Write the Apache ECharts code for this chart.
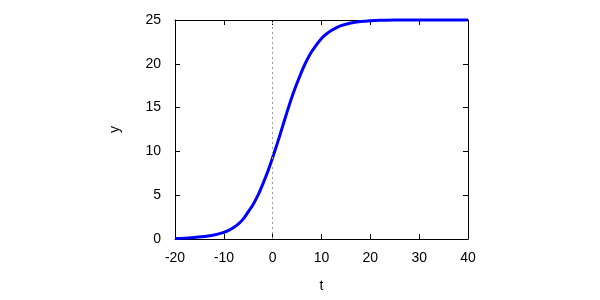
<!DOCTYPE html>
<html><head><meta charset="utf-8">
<script src="https://cdn.jsdelivr.net/npm/echarts@6/dist/echarts.min.js"></script>
<style>html,body{margin:0;padding:0;background:#fff}#c{width:600px;height:300px}</style>
</head><body><div id="c"></div>
<script>
const tValues = [-20,-18,-16,-14,-12,-10,-9,-8,-7,-6,-5,-4,-3,-2,-1,0,1,2,3,4,5,6,7,8,9,10,11,12,13,14,16,18,20,22,25,30,35,40];
const yValues = [0.07,0.1,0.18,0.28,0.45,0.75,0.98,1.3,1.72,2.3,3.1,3.95,5.0,6.3,7.7,9.3,11.0,12.8,14.6,16.3,17.8,19.2,20.4,21.4,22.2,22.9,23.4,23.8,24.1,24.35,24.65,24.82,24.92,24.97,25,25,25,25];
const xTicks = [-20,-10,0,10,20,30,40];
const yTicks = [0,5,10,15,20,25];
const font = 'Liberation Sans';
const data = tValues.map((t,i)=>[t,yValues[i]]);
const chart = echarts.init(document.getElementById('c'));
const axisCommon = {
  axisLine:{show:true,onZero:false,lineStyle:{color:'#000',width:1}},
  axisTick:{show:true,inside:true,length:5,lineStyle:{color:'#000'}},
  splitLine:{show:false}
};
chart.setOption({
  animation:false,
  grid:{left:175,right:132,top:20,bottom:61},
  xAxis:[
    Object.assign({type:'value',min:-20,max:40,interval:10,position:'bottom',
      name:'t',nameLocation:'middle',nameGap:40,
      nameTextStyle:{fontFamily:font,fontSize:14,color:'#000'},
      axisLabel:{fontFamily:font,fontSize:14,color:'#000',margin:12}},axisCommon),
    Object.assign({type:'value',min:-20,max:40,interval:10,position:'top',
      axisLabel:{show:false}},axisCommon)
  ],
  yAxis:[
    Object.assign({type:'value',min:0,max:25,interval:5,position:'left',
      name:'y',nameLocation:'middle',nameGap:53,nameRotate:90,
      nameTextStyle:{fontFamily:font,fontSize:14,color:'#000'},
      axisLabel:{fontFamily:font,fontSize:14,color:'#000',margin:14}},axisCommon),
    Object.assign({type:'value',min:0,max:25,interval:5,position:'right',
      axisLabel:{show:false}},axisCommon)
  ],
  series:[{
    type:'line',data:data,smooth:0.3,showSymbol:false,
    lineStyle:{color:'#0000ff',width:3},
    clip:false,z:3,
    markLine:{silent:true,symbol:'none',label:{show:false},
      lineStyle:{color:'#999',type:[2,3],width:1},
      data:[{xAxis:0}]}
  }]
});
</script></body></html>
